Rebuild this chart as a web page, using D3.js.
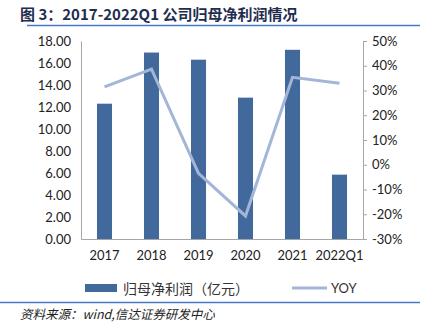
<!DOCTYPE html>
<html>
<head>
<meta charset="utf-8">
<script src="https://cdn.jsdelivr.net/npm/d3@7"></script>
<style>
  html, body { margin: 0; padding: 0; background: #fff; }
  svg { display: block; }
</style>
</head>
<body>
<svg id="chart" width="423" height="328"></svg>
<script>
// Net profit attributable to parent (100M CNY) and YoY growth
const categories = ["2017", "2018", "2019", "2020", "2021", "2022Q1"];
const profit = [12.3, 16.95, 16.3, 12.85, 17.2, 5.85];
const yoy = [31.5, 38.6, -3.5, -20.7, 35.3, 32.9];
const leftTicks = [0, 2, 4, 6, 8, 10, 12, 14, 16, 18];
const rightTicks = [-30, -20, -10, 0, 10, 20, 30, 40, 50];

const svg = d3.select("#chart");
const numFont = "Lato, 'Open Sans', sans-serif";
const cjkFont = "'Noto Sans CJK SC', sans-serif";

const plot = { left: 81, right: 363, top: 41, bottom: 239 };

const x = d3.scaleBand().domain(categories).range([plot.left, plot.right]).paddingInner(0.68).paddingOuter(0.34);
const yL = d3.scaleLinear().domain([0, 18]).range([plot.bottom, plot.top]);
const yR = d3.scaleLinear().domain([-30, 50]).range([plot.bottom, plot.top]);

// Title and rules
svg.append("text")
  .attr("x", 20).attr("y", 20)
  .attr("font-family", cjkFont).attr("font-weight", "bold")
  .attr("font-size", 15).attr("fill", "#1f2d50")
  .text("图 3：2017-2022Q1 公司归母净利润情况");
svg.append("line").attr("x1", 27).attr("x2", 420).attr("y1", 25.5).attr("y2", 25.5)
  .attr("stroke", "#4a78c8").attr("stroke-width", 1.5);
svg.append("line").attr("x1", 0).attr("x2", 420).attr("y1", 302.5).attr("y2", 302.5)
  .attr("stroke", "#4a78c8").attr("stroke-width", 1.5);
svg.append("text")
  .attr("x", 20).attr("y", 319)
  .attr("font-family", cjkFont).attr("font-style", "italic")
  .attr("font-size", 12.5).attr("fill", "#222")
  .text("资料来源：wind,信达证券研发中心");

// Bars
svg.append("g").selectAll("rect").data(profit).join("rect")
  .attr("x", (d, i) => x(categories[i]))
  .attr("width", x.bandwidth())
  .attr("y", d => yL(d))
  .attr("height", d => yL(0) - yL(d))
  .attr("fill", "#41699c");

// Axes
const axisL = svg.append("g").attr("transform", `translate(${plot.left},0)`)
  .call(d3.axisLeft(yL).tickValues(leftTicks).tickSize(0).tickPadding(10).tickFormat(d3.format(".2f")));
const axisR = svg.append("g").attr("transform", `translate(${plot.right},0)`)
  .call(d3.axisRight(yR).tickValues(rightTicks).tickSize(4).tickPadding(5).tickFormat(d => d + "%"));
const axisB = svg.append("g").attr("transform", `translate(0,${plot.bottom})`)
  .call(d3.axisBottom(x).tickSize(0).tickPadding(12));

[axisL, axisR, axisB].forEach(a => {
  a.select(".domain").attr("stroke", "#a6a6a6");
  a.selectAll(".tick line").attr("stroke", "#a6a6a6");
  a.selectAll("text").attr("font-family", numFont).attr("font-size", 13).attr("fill", "#222");
});

// YoY line
const line = d3.line()
  .x((d, i) => x(categories[i]) + x.bandwidth() / 2)
  .y(d => yR(d));
svg.append("path").datum(yoy)
  .attr("d", line)
  .attr("fill", "none")
  .attr("stroke", "#a4b6d7")
  .attr("stroke-width", 3);

// Legend
const lg = svg.append("g");
lg.append("rect").attr("x", 85).attr("y", 284).attr("width", 32).attr("height", 8).attr("fill", "#41699c");
lg.append("text").attr("x", 123).attr("y", 293.5)
  .attr("font-family", cjkFont).attr("font-size", 14).attr("fill", "#333")
  .text("归母净利润（亿元）");
lg.append("line").attr("x1", 292).attr("x2", 327).attr("y1", 288).attr("y2", 288)
  .attr("stroke", "#a4b6d7").attr("stroke-width", 3);
lg.append("text").attr("x", 331).attr("y", 293)
  .attr("font-family", numFont).attr("font-size", 13).attr("fill", "#333")
  .text("YOY");
</script>
</body>
</html>
